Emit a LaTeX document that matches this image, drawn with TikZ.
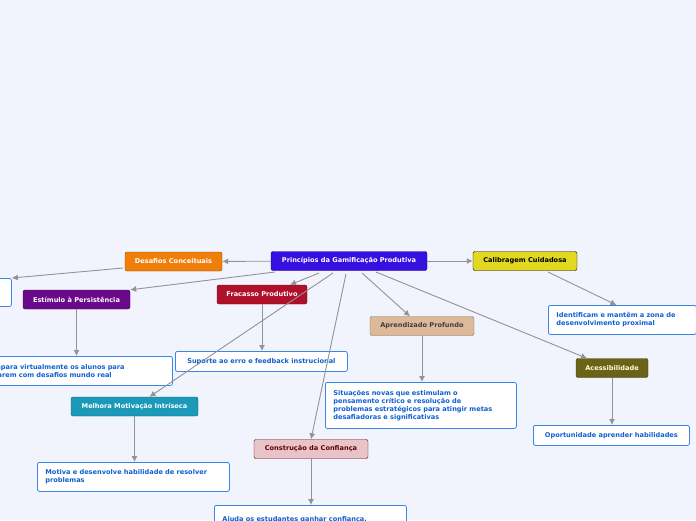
\documentclass[tikz,border=0pt]{standalone}
\usepackage{fontspec}
\setmainfont{DejaVu Sans}
\usetikzlibrary{arrows.meta}
\begin{document}
\begin{tikzpicture}[x=1pt,y=-1pt,
 topic/.style={draw=#1!60!black,fill=#1,rounded corners=2pt,font=\bfseries\fontsize{6.6}{7}\selectfont,text=white,minimum height=19pt,inner xsep=6pt},
 leaf/.style={draw=leafb,fill=white,rounded corners=2pt,line width=0.8pt,font=\bfseries\fontsize{6.6}{8}\selectfont,text=leaft,align=left,inner xsep=8pt,anchor=north west},
 conn/.style={draw=gray!85,line width=0.9pt,-{Latex[length=6pt,width=6pt]}}]
\definecolor{bg}{HTML}{F2F4FD}
\definecolor{leafb}{HTML}{3A85E8}
\definecolor{leaft}{HTML}{1060D0}
\definecolor{croot}{HTML}{3510E0}
\definecolor{corange}{HTML}{F07F0A}
\definecolor{cpurple}{HTML}{6A0A8A}
\definecolor{cred}{HTML}{B0102A}
\definecolor{cyellow}{HTML}{E2D820}
\definecolor{ctan}{HTML}{DDB899}
\definecolor{colive}{HTML}{6B6218}
\definecolor{cteal}{HTML}{1A9AB8}
\definecolor{cpink}{HTML}{E8C4C8}
\useasboundingbox (0,0) rectangle (696,520);
\clip (0,0) rectangle (696,520);
\fill[bg] (0,0) rectangle (696,520);
\node[topic=croot,minimum width=156pt] (root) at (349,261) {Princípios da Gamificação Produtiva};
\node[topic=corange,minimum width=97pt] (des) at (173.5,261.5) {Desafios Conceituais};
\node[topic=cpurple,minimum width=107pt] (est) at (76.5,299.5) {Estímulo à Persistência};
\node[topic=cred,minimum width=90pt] (fra) at (262,294.5) {Fracasso Produtivo};
\node[topic=cyellow,draw=black,text=black,minimum width=104pt] (cal) at (525,261) {Calibragem Cuidadosa};
\node[topic=ctan,text=black!75,minimum width=104pt] (apr) at (422,326) {Aprendizado Profundo};
\node[topic=colive,text=white!85!yellow,minimum width=72pt] (ace) at (612,368) {Acessibilidade};
\node[topic=cteal,minimum width=127pt] (mel) at (134.5,406.5) {Melhora Motivação Intríseca};
\node[topic=cpink,draw=black!60!red,text=black!60!red,minimum width=114pt] (con) at (311,449) {Construção da Confiança};
\node[leaf,minimum width=100pt,minimum height=28pt] (lb) at (-89,278) {};
\node[leaf,text width=132pt,minimum height=29pt] (ide) at (548,305) {Identificam e mantêm a zona de\\desenvolvimento proximal};
\node[leaf,minimum height=20pt,inner xsep=7pt,minimum width=156pt] (opo) at (533,425) {Oportunidade aprender habilidades};
\node[leaf,text width=175pt,minimum height=46pt] (sit) at (325,382) {Situações novas que estimulam o\\pensamento crítico e resolução de\\problemas estratégicos para atingir metas\\desafiadoras e significativas};
\node[leaf,minimum height=20pt,inner xsep=7pt,minimum width=172pt] (sup) at (175,351) {Suporte ao erro e feedback instrucional};
\node[leaf,text width=176pt,minimum height=29pt] (pre) at (-20,356) {Prepara virtualmente os alunos para\\lidarem com desafios mundo real};
\node[leaf,text width=176pt,minimum height=29pt] (mot) at (37,462) {Motiva e desenvolve habilidade de resolver\\problemas};
\node[leaf,text width=176pt,minimum height=29pt] (aju) at (214,505) {Ajuda os estudantes ganhar confiança,\\};
\coordinate (r1) at (275,272);
\coordinate (r2) at (319,273);
\coordinate (r3) at (333,273);
\coordinate (r4) at (346,274);
\coordinate (r5) at (362,273);
\coordinate (r6) at (376,272);
\coordinate (d1) at (123,268);
\coordinate (c1) at (548,272);
\draw[conn] (root) -- (des);
\draw[conn] (d1) -- (lb.north east);
\draw[conn] (r1) -- (est.north east);
\draw[conn] (r2) -- ([xshift=28pt]fra.north);
\draw[conn] (r3) -- ([xshift=15pt]mel.north);
\draw[conn] (r4) -- (con.north);
\draw[conn] (r5) -- ([xshift=-12pt]apr.north);
\draw[conn] (r6) -- ([xshift=-25pt]ace.north);
\draw[conn] (root) -- (cal);
\draw[conn] (c1) -- ([xshift=-6pt]ide.north);
\draw[conn] (fra) -- (sup.north -| fra);
\draw[conn] (est) -- (pre.north -| est);
\draw[conn] (apr) -- (sit.north -| apr);
\draw[conn] (ace) -- (opo.north -| ace);
\draw[conn] (mel) -- (mot.north -| mel);
\draw[conn] (con) -- (aju.north -| con);
\end{tikzpicture}
\end{document}
